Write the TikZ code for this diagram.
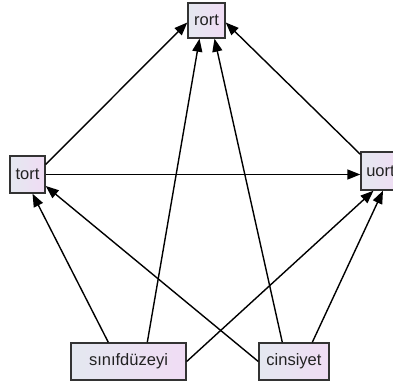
\documentclass[tikz,border=0pt]{standalone}
\usepackage{fontspec}
\setmainfont{Liberation Sans}
\usetikzlibrary{arrows.meta}
\definecolor{boxleft}{HTML}{E4E8F0}
\definecolor{boxright}{HTML}{F0DCF4}
\definecolor{boxline}{HTML}{333333}
\definecolor{txt}{HTML}{222222}
\tikzset{
  var/.style={draw=boxline, line width=1.4pt, left color=boxleft, right color=boxright,
    shading angle=90, inner sep=0pt, font=\fontsize{16.5}{19}\selectfont, text=txt},
  path/.style={draw=black, line width=1.4pt, -{Triangle[length=13pt,width=10pt]}}
}
\begin{document}
\begin{tikzpicture}[x=1pt,y=1pt]
\useasboundingbox[fill=white] (0,0) rectangle (393,385);
\node[var, minimum width=37pt, minimum height=35pt] (rort) at (206.5,364.5) {rort};
\node[var, minimum width=35pt, minimum height=37pt] (tort) at (27.5,210.5) {tort};
\node[var, minimum width=39pt, minimum height=38pt] (uort) at (380.5,214) {uort};
\node[var, minimum width=115pt, minimum height=37pt] (sinif) at (128.5,23.5) {sınıfdüzeyi};
\node[var, minimum width=70pt, minimum height=37pt] (cins) at (294,23.5) {cinsiyet};

\draw[path] ([yshift=10pt]tort.east) -- ([yshift=-2pt]rort.west);
\draw[path] ([yshift=-3pt]uort.north west) -- ([yshift=-2pt]rort.east);
\draw[path] (tort.east) -- (tort.east -| uort.west);
\draw[path] ([xshift=38pt]sinif.north west) -- ([xshift=5pt]tort.south);
\draw[path] ([xshift=77pt]sinif.north west) -- ([xshift=-7pt]rort.south);
\draw[path] (sinif.east) -- ([xshift=-7pt]uort.south);
\draw[path] (cins.west) -- ([yshift=-11.5pt]tort.east);
\draw[path] ([xshift=24pt]cins.north west) -- ([xshift=8pt]rort.south);
\draw[path] ([xshift=54pt]cins.north west) -- ([xshift=2.5pt]uort.south);
\end{tikzpicture}
\end{document}
